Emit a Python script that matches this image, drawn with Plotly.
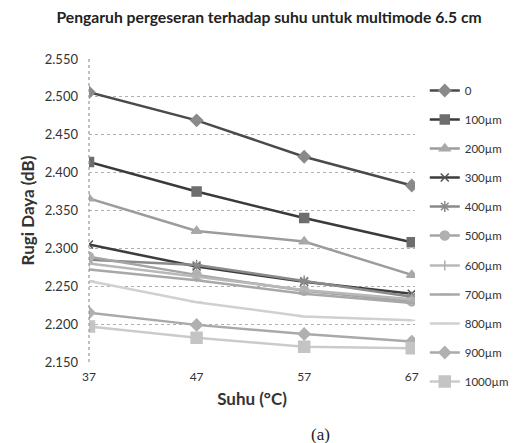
import plotly.graph_objects as go

suhu = [37, 47, 57, 67]
series_names = ["0", "100µm", "200µm", "300µm", "400µm", "500µm",
                "600µm", "700µm", "800µm", "900µm", "1000µm"]
s0 = [2.506, 2.469, 2.421, 2.383]
s100 = [2.414, 2.375, 2.340, 2.308]
s200 = [2.366, 2.323, 2.309, 2.265]
s300 = [2.305, 2.276, 2.256, 2.240]
s400 = [2.285, 2.278, 2.257, 2.236]
s500 = [2.289, 2.265, 2.244, 2.230]
s600 = [2.280, 2.262, 2.245, 2.233]
s700 = [2.272, 2.258, 2.240, 2.228]
s800 = [2.257, 2.229, 2.210, 2.205]
s900 = [2.215, 2.199, 2.187, 2.177]
s1000 = [2.197, 2.182, 2.170, 2.168]
values = [s0, s100, s200, s300, s400, s500, s600, s700, s800, s900, s1000]
y_ticks = [2.150, 2.200, 2.250, 2.300, 2.350, 2.400, 2.450, 2.500, 2.550]

styles = [
    dict(line="#4a4a4a", mcol="#8a8a8a", sym="diamond", size=9),
    dict(line="#3a3a3a", mcol="#6e6e6e", sym="square", size=9),
    dict(line="#9c9c9c", mcol="#a8a8a8", sym="triangle-up", size=9),
    dict(line="#3c3c3c", mcol="#555555", sym="x-thin-open", size=8),
    dict(line="#8a8a8a", mcol="#8a8a8a", sym="asterisk-open", size=9),
    dict(line="#a5a5a5", mcol="#b0b0b0", sym="circle", size=9),
    dict(line="#b8b8b8", mcol="#b0b0b0", sym="line-ns-open", size=7),
    dict(line="#a8a8a8", mcol="#a8a8a8", sym="line-ew-open", size=8),
    dict(line="#d0d0d0", mcol="#d0d0d0", sym="line-ew-open", size=8),
    dict(line="#a9a9a9", mcol="#b0b0b0", sym="diamond", size=9),
    dict(line="#cbcbcb", mcol="#c4c4c4", sym="square", size=11),
]

fig = go.Figure()
for i, (name, vals) in enumerate(zip(series_names, values)):
    st = styles[i]
    fig.add_trace(go.Scatter(
        x=suhu, y=vals, name=name, mode="lines+markers",
        legendgroup="g%d" % i,
        legend="legend" if i < 6 else "legend2",
        line=dict(color=st["line"], width=2.5),
        marker=dict(symbol=st["sym"], size=st["size"], color=st["mcol"],
                    line=dict(color=st["mcol"], width=1.5)),
    ))

font = "Lato"
leg_common = dict(xanchor="left", yanchor="top",
                  font=dict(family=font, size=11.5, color="#333333"),
                  traceorder="grouped", tracegroupgap=10,
                  bgcolor="rgba(0,0,0,0)", itemwidth=30)
plot_top, plot_bot, plot_h = 51, 354, 303
fig.update_layout(
    width=519, height=443,
    paper_bgcolor="white", plot_bgcolor="white",
    margin=dict(l=81, r=112, t=51, b=89, autoexpand=False),
    font=dict(family=font, size=12, color="#333333"),
    title=dict(text="<b>Pengaruh pergeseran terhadap suhu untuk multimode 6.5 cm</b>",
               x=261 / 519, xanchor="center", xref="container",
               y=1 - 9 / 443, yanchor="middle",
               font=dict(family=font, size=15.7, color="#222222")),
    legend=dict(x=1.03, y=(plot_bot - 68) / plot_h, **leg_common),
    legend2=dict(x=1.03, y=(plot_bot - 243) / plot_h, **leg_common),
    showlegend=True,
)
fig.update_xaxes(
    range=[37, 67.3], tickvals=suhu, ticktext=[str(v) for v in suhu],
    showgrid=False, zeroline=False, showline=False, ticks="",
    ticklabelstandoff=6,
    tickfont=dict(size=12, color="#333333"),
    title=dict(text="<b>Suhu (°C)</b>", font=dict(size=17, color="#333333"), standoff=10),
)
fig.update_yaxes(
    range=[2.150, 2.550], tickvals=y_ticks, tickformat=".3f",
    showgrid=True, gridcolor="#b0b0b0", griddash="dot", gridwidth=1,
    zeroline=False, showline=False,
    ticks="", ticklabelstandoff=10,
    tickfont=dict(size=13, color="#333333"),
    title=dict(text="<b>Rugi Daya (dB)</b>", font=dict(size=17, color="#333333"), standoff=5),
)
fig.add_shape(type="line", xref="paper", yref="paper", x0=0, x1=0, y0=0, y1=1,
              line=dict(color="#999999", width=1.2, dash="dot"))
fig.add_annotation(text="(a)", xref="paper", yref="paper",
                   x=(312 - 81) / 326, y=-(426 - plot_bot) / plot_h,
                   xanchor="center", yanchor="middle", showarrow=False,
                   font=dict(family="Liberation Serif", size=17, color="#222222"))
fig.write_html("out.html")
